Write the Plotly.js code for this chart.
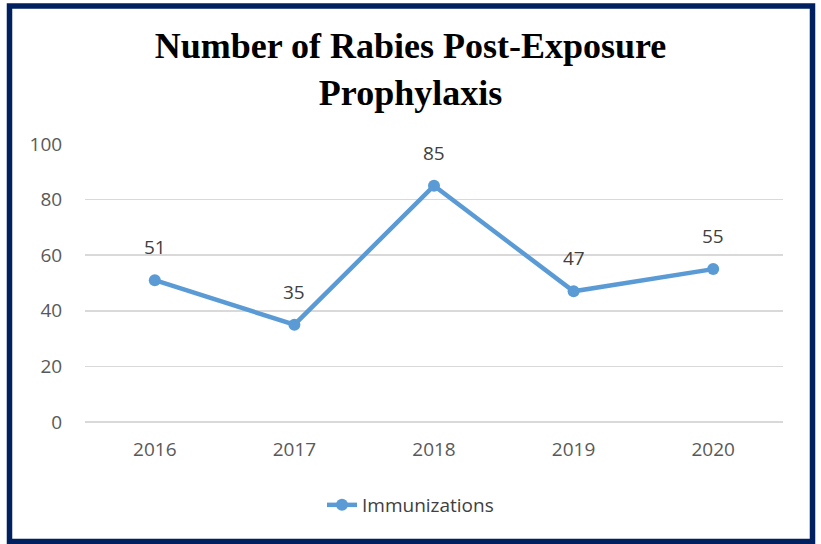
<!DOCTYPE html>
<html>
<head>
<meta charset="utf-8">
<script src="https://cdn.plot.ly/plotly-3.0.1.min.js"></script>
<style>
html,body{margin:0;padding:0;background:#fff;}
#chart{width:821px;height:544px;}
</style>
</head>
<body>
<div id="chart"></div>
<script>
const years = ["2016", "2017", "2018", "2019", "2020"];
const immunizations = [51, 35, 85, 47, 55];
const seriesName = "Immunizations";
const yTicks = [0, 20, 40, 60, 80, 100];

const W = 821, H = 544;
const M = {l: 85, r: 38, t: 144, b: 122};
const pw = W - M.l - M.r, ph = H - M.t - M.b;
const px = v => (v - M.l) / pw;
const py = v => (H - M.b - v) / ph;
const sansFont = "Open Sans, Liberation Sans, sans-serif";

const trace = {
  type: "scatter",
  mode: "lines+markers",
  x: years,
  y: immunizations,
  name: seriesName,
  line: {color: "#5b9bd5", width: 4.5},
  marker: {color: "#5b9bd5", size: 12},
  cliponaxis: false,
  hoverinfo: "x+y"
};

const labelAnnotations = immunizations.map((v, i) => ({
  x: i, y: v, xref: "x", yref: "y",
  text: String(v), showarrow: false,
  xanchor: "center", yanchor: "middle",
  yshift: 33,
  font: {family: sansFont, size: 19, color: "#404040"}
}));

const layout = {
  width: W, height: H,
  margin: M,
  paper_bgcolor: "#ffffff",
  plot_bgcolor: "#ffffff",
  title: {
    text: "Number of Rabies Post-Exposure<br>Prophylaxis",
    font: {family: "Liberation Serif, Times New Roman, serif", size: 36, color: "#000000", weight: "bold"},
    x: 0.5, xref: "container", xanchor: "center",
    y: 1 - 58 / H, yref: "container", yanchor: "top"
  },
  xaxis: {
    type: "category",
    range: [-0.5, 4.5],
    showgrid: false, zeroline: false, showline: false,
    ticks: "outside", ticklen: 10, tickcolor: "rgba(0,0,0,0)",
    tickfont: {family: sansFont, size: 19, color: "#595959"},
    fixedrange: true
  },
  yaxis: {
    range: [0, 100],
    tickvals: yTicks,
    ticktext: yTicks.map(String),
    showgrid: true, gridcolor: "#d9d9d9", gridwidth: 1.5,
    zeroline: true, zerolinecolor: "#d9d9d9", zerolinewidth: 1.5,
    showline: false,
    ticks: "outside", ticklen: 18, tickcolor: "rgba(0,0,0,0)",
    tickfont: {family: sansFont, size: 19, color: "#595959"},
    fixedrange: true
  },
  showlegend: true,
  legend: {
    orientation: "h",
    x: 0.5, xref: "container", xanchor: "center",
    y: 1 - 505 / H, yref: "container", yanchor: "middle",
    font: {family: sansFont, size: 19, color: "#404040"},
    bgcolor: "rgba(0,0,0,0)"
  },
  annotations: labelAnnotations,
  shapes: [{
    type: "rect", xref: "paper", yref: "paper",
    x0: px(9.5), x1: px(812.5), y0: py(541.5), y1: py(6),
    line: {color: "#002060", width: 5.5},
    fillcolor: "rgba(0,0,0,0)",
    layer: "above"
  }]
};

Plotly.newPlot("chart", [trace], layout, {displayModeBar: false, staticPlot: true});
</script>
</body>
</html>
